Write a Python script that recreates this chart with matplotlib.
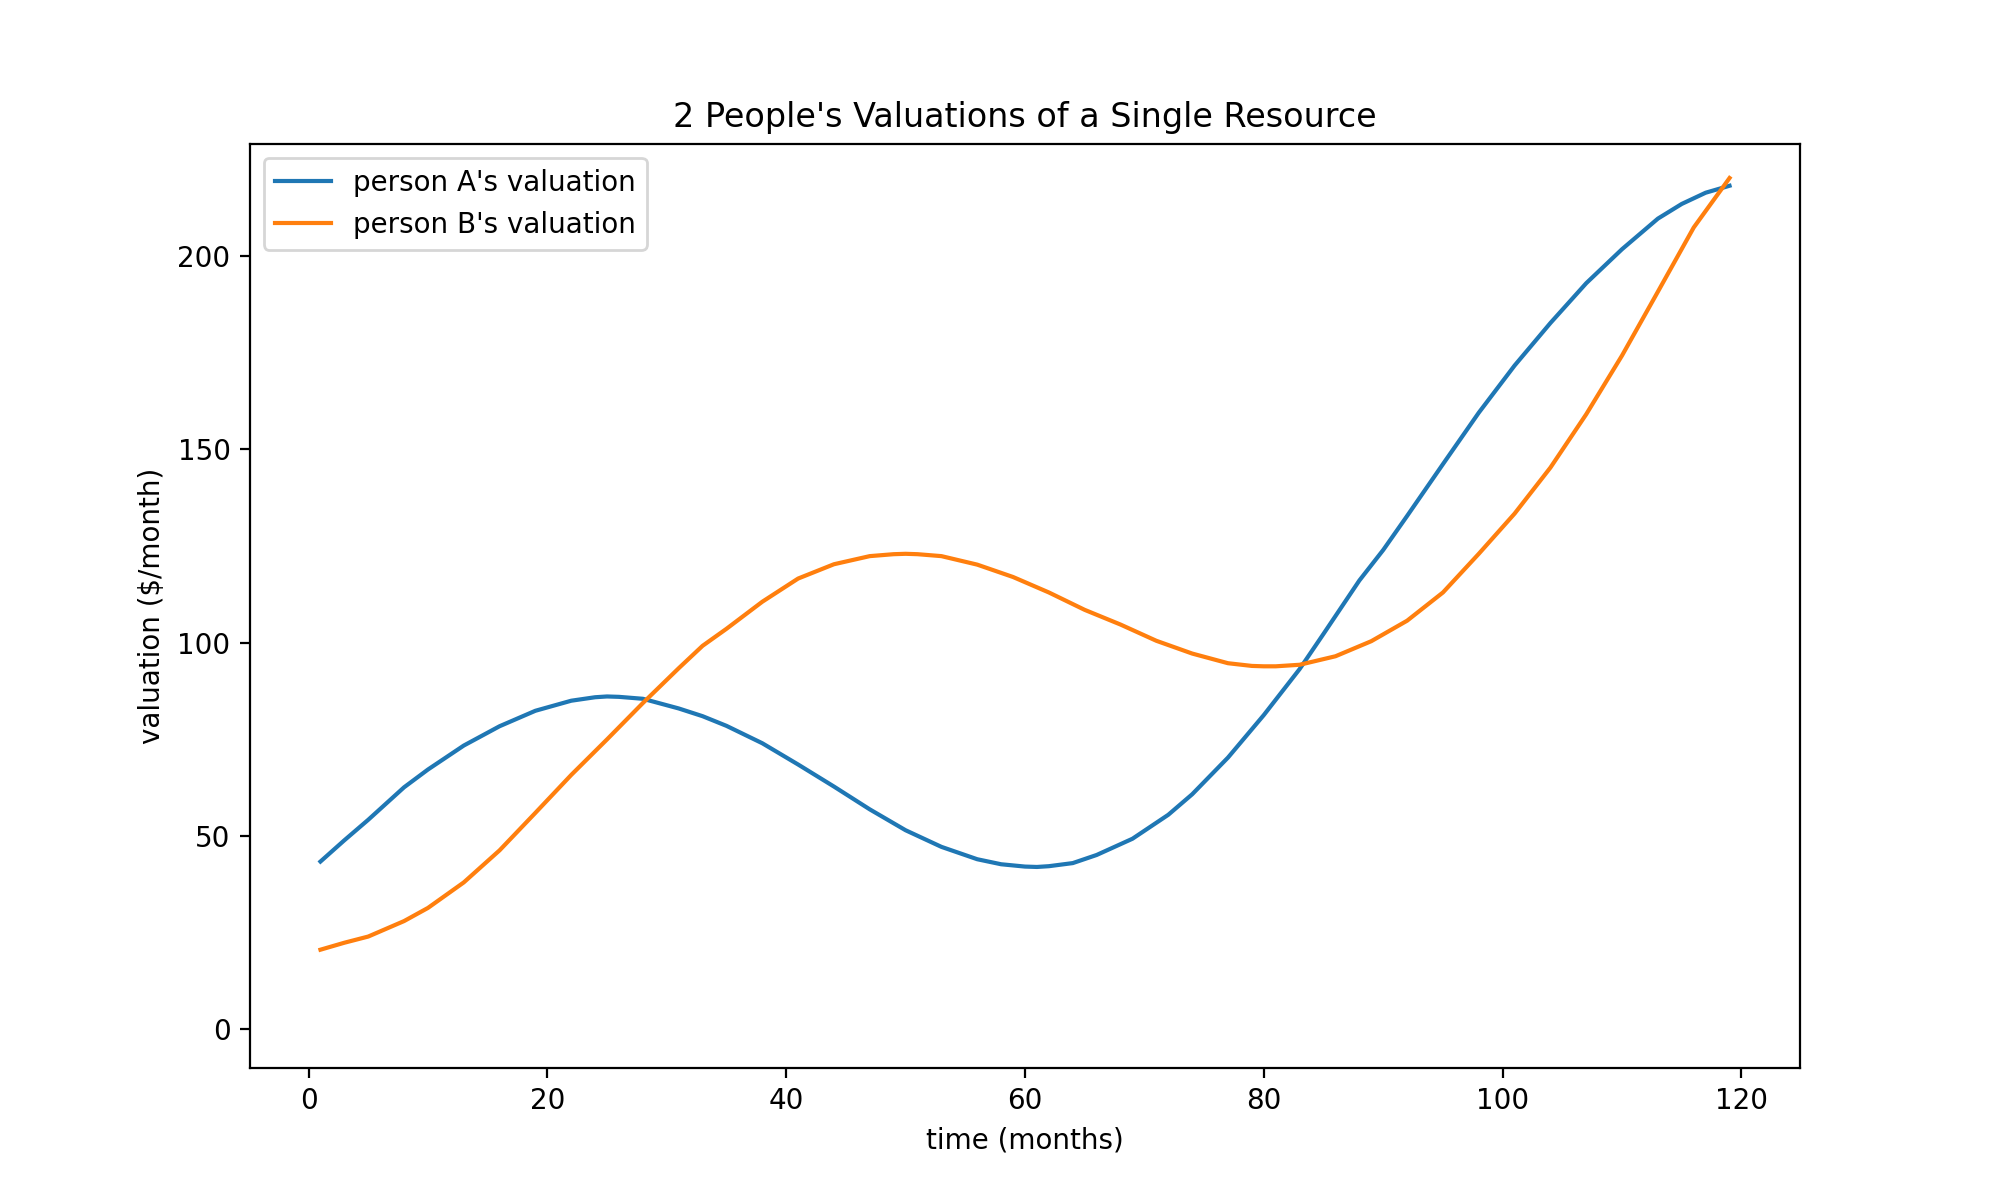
import matplotlib
matplotlib.use('Agg')
import matplotlib.pyplot as plt

# values
months_a = [1, 3, 5, 8, 10, 13, 16, 19, 22, 24, 25, 26, 28, 31, 33, 35, 38, 41,
            44, 47, 50, 53, 56, 58, 60, 61, 62, 64, 66, 69, 72, 74, 77, 80, 83,
            85, 88, 90, 92, 95, 98, 101, 104, 107, 110, 113, 115, 117, 119]
person_a = [43.4, 48.9, 54.2, 62.6, 67.2, 73.4, 78.4, 82.4, 85.0, 85.9, 86.1,
            86.0, 85.5, 83.0, 81.0, 78.5, 74.0, 68.5, 62.8, 56.9, 51.5, 47.2,
            44.0, 42.7, 42.1, 42.0, 42.2, 43.0, 45.1, 49.3, 55.5, 60.8, 70.3,
            81.3, 93.2, 102.3, 116.1, 124.0, 132.8, 146.2, 159.5, 171.7, 182.7,
            193.0, 201.8, 209.7, 213.5, 216.4, 218.2]

months_b = [1, 3, 5, 8, 10, 13, 16, 19, 22, 25, 28, 31, 33, 35, 38, 41, 44, 47,
            49, 50, 51, 53, 56, 59, 62, 65, 68, 71, 74, 77, 79, 80, 81, 83, 86,
            89, 92, 95, 98, 101, 104, 107, 110, 113, 116, 119]
person_b = [20.6, 22.4, 24.0, 28.0, 31.4, 38.0, 46.3, 56.0, 65.8, 75.0, 84.4,
            93.4, 99.2, 103.6, 110.6, 116.6, 120.3, 122.4, 122.9, 123.0, 122.9,
            122.4, 120.2, 117.0, 113.0, 108.5, 104.7, 100.5, 97.2, 94.7, 94.0,
            93.9, 93.9, 94.3, 96.5, 100.4, 105.7, 113.0, 123.0, 133.4, 145.3,
            159.1, 174.3, 190.8, 207.4, 220.2]

fig = plt.figure(figsize=(10, 6), dpi=200)
plt.plot(months_a, person_a, label="person A's valuation")
plt.plot(months_b, person_b, label="person B's valuation")
plt.ylim(-10, 229)
plt.title("2 People's Valuations of a Single Resource")
plt.xlabel('time (months)')
plt.ylabel(r'valuation (\$/month)')
plt.legend(loc='upper left')
plt.savefig('out.png')
